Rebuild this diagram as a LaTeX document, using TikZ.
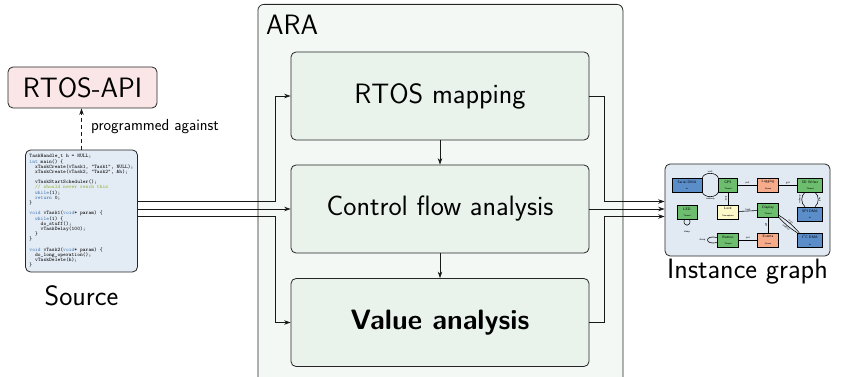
\documentclass[tikz,border=0pt]{standalone}
\usetikzlibrary{arrows.meta,calc}
\definecolor{arafill}{HTML}{F3F8F4}
\definecolor{stepfill}{HTML}{E9F3EC}
\definecolor{srcfill}{HTML}{E3EBF4}
\definecolor{igfill}{HTML}{E1E9F2}
\definecolor{apifill}{HTML}{FAE6E6}
\definecolor{isrblue}{HTML}{5B8DC9}
\definecolor{thrgreen}{HTML}{6CBE6E}
\definecolor{queorange}{HTML}{F6AB8A}
\definecolor{semyellow}{HTML}{FFF8C8}
\definecolor{kwblue}{HTML}{3F78B5}
\definecolor{cmgreen}{HTML}{8DB33A}
\newcommand{\kwd}[1]{\textcolor{kwblue}{#1}}
\newcommand{\cmt}[1]{\textcolor{cmgreen}{#1}}
\newcommand{\ntype}[1]{{\fontsize{2.3}{2.5}\selectfont #1}}
\begin{document}
\begin{tikzpicture}[x=1pt,y=-1pt,
  every node/.style={font=\sffamily},
  bigtxt/.style={font=\sffamily\fontsize{28}{33}\selectfont},
  mainbox/.style={draw=black!85, line width=0.8pt, rounded corners=5pt},
  stepbox/.style={mainbox, fill=stepfill, minimum width=298pt, minimum height=88pt, bigtxt},
  arr/.style={-{Stealth[length=6.5pt,width=4.5pt]}, line width=0.7pt, draw=black!90},
  mn/.style={draw=black, line width=0.5pt, inner sep=0.5pt, minimum height=14pt, align=center, font=\sffamily\fontsize{3.6}{4}\selectfont},
  me/.style={line width=0.55pt},
  ml/.style={font=\sffamily\fontsize{2.6}{3}\selectfont, inner sep=0.6pt}]
\useasboundingbox (0,0) rectangle (844,377);
\clip (0,0) rectangle (844,377);

% ARA container
\node[mainbox, fill=arafill, rounded corners=6pt, minimum width=365pt, minimum height=400pt, anchor=north west] (ara) at (257.5,4) {};
\node[bigtxt, anchor=base west, inner sep=0pt] (aralbl) at (266,35) {ARA};

% analysis steps
\node[stepbox] (rmap) at (440,96) {RTOS mapping};
\node[stepbox] (cfa) at (440,209) {Control flow analysis};
\node[stepbox, font=\sffamily\bfseries\fontsize{28}{33}\selectfont] (va) at (440,322.5) {Value analysis};
\draw[arr] (rmap.south) -- (cfa.north);
\draw[arr] (cfa.south) -- (va.north);

% source
\node[mainbox, fill=srcfill, minimum width=112pt, minimum height=122pt, inner sep=0pt, align=left,
      font=\ttfamily\fontsize{5.3}{5.2}\selectfont] (src) at (81.5,211) {%
TaskHandle\_t h = NULL;\\
\kwd{int} main() \{\\
\ \ xTaskCreate(vTask1, "Task1", NULL);\\
\ \ xTaskCreate(vTask2, "Task2", \&h);\\[5.2pt]
\ \ vTaskStartScheduler();\\
\ \ \cmt{// should never reach this}\\
\ \ \kwd{while}(1);\\
\ \ \kwd{return} 0;\\
\}\\[5.2pt]
\kwd{void} vTask1(\kwd{void}* param) \{\\
\ \ \kwd{while}(1) \{\\
\ \ \ \ do\_stuff();\\
\ \ \ \ vTaskDelay(100);\\
\ \ \}\\
\}\\[5.2pt]
\kwd{void} vTask2(\kwd{void}* param) \{\\
\ \ do\_long\_operation();\\
\ \ vTaskDelete(h);\\
\}};
\node[bigtxt] (srclbl) at (81.5,296) {Source};

% RTOS-API
\node[mainbox, fill=apifill, minimum width=149pt, minimum height=41pt, inner sep=0pt, bigtxt] (api) at (82.5,87.5) {RTOS-API};
\draw[arr, dash pattern=on 4pt off 3pt] (src.north) -- (src.north |- api.south);
\node[anchor=west, font=\sffamily\fontsize{16}{19}\selectfont, inner sep=0pt] (pa) at (91,127) {programmed against};

% connectors into ARA
\coordinate (in1) at ($(cfa.west)+(0,-7.5)$);
\coordinate (in3) at ($(cfa.west)+(0,7.5)$);
\draw[arr] (src.east |- in1) -| ($(rmap.west)+(-15,0)$) -- (rmap.west);
\draw[arr] (src.east |- cfa.west) -- (cfa.west);
\draw[arr] (src.east |- in3) -| ($(va.west)+(-15,0)$) -- (va.west);

% instance graph
\node[mainbox, fill=igfill, minimum width=165pt, minimum height=92pt] (ig) at (747.5,210) {};
\node[bigtxt] (iglbl) at (747.5,272) {Instance graph};

\draw[arr] (rmap.east) -- ++(15,0) |- (ig.west |- in1);
\draw[arr] (cfa.east) -- (ig.west |- cfa.east);
\draw[arr] (va.east) -- ++(15,0) |- (ig.west |- in3);

% mini graph nodes
\node[mn, fill=isrblue, minimum width=30pt] (sdma) at (687,185) {Serial DMA\\[2.4pt]\ntype{isr}};
\node[mn, fill=thrgreen, minimum width=19pt] (gps) at (728,185) {GPS\\[2.4pt]\ntype{Thread}};
\node[mn, fill=queorange, minimum width=21pt] (logq) at (768,185) {Logging\\[2.4pt]\ntype{Queue}};
\node[mn, fill=thrgreen, minimum width=25pt] (sdw) at (810,185) {SD Writer\\[2.4pt]\ntype{Thread}};
\node[mn, fill=thrgreen, minimum width=20pt] (led) at (687,212) {LED\\[2.4pt]\ntype{Thread}};
\node[mn, fill=semyellow, minimum width=21pt] (lock) at (728,212) {Lock\\[2.4pt]\ntype{Semaphore}};
\node[mn, fill=thrgreen, minimum width=21pt] (disp) at (768,210) {Display\\[2.4pt]\ntype{Thread}};
\node[mn, fill=isrblue, minimum width=25pt] (spi) at (810,214) {SPI DMA\\[2.4pt]\ntype{isr}};
\node[mn, fill=thrgreen, minimum width=21pt] (btn) at (728,240) {Button\\[2.4pt]\ntype{Thread}};
\node[mn, fill=queorange, minimum width=21pt] (evq) at (768,240) {Events\\[2.4pt]\ntype{Queue}};
\node[mn, fill=isrblue, minimum width=25pt] (pcdma) at (810,240) {I\textsuperscript{2}C DMA\\[2.4pt]\ntype{isr}};

% mini graph edges
\draw[me] (sdma.north east) to[bend left=70] node[ml, above] {wait} (gps.north west);
\draw[me] (sdma.south east) to[bend right=70] node[ml, below] {wakeup} (gps.south west);
\draw[me] (gps) -- node[ml, above] {put} (logq);
\draw[me] (logq) -- node[ml, above] {get} (sdw);
\draw[me] ([xshift=-5pt]sdw.south) to[bend right=50] node[ml, rotate=90, anchor=south] {wakeup} ([xshift=-5pt]spi.north);
\draw[me] ([xshift=5pt]sdw.south) to[bend left=50] node[ml, rotate=-90, anchor=south] {wait} ([xshift=5pt]spi.north);
\draw[me] (gps) -- node[ml, rotate=-90, anchor=north] {lock} (lock);
\draw[me] (lock) -- node[ml, above] {lock} (disp);
\draw[me] (disp) -- node[ml, rotate=-90, anchor=north] {get} (evq);
\draw[me] ([yshift=2pt]disp.south east) to[bend left=8] node[ml, sloped, above] {wait} ([xshift=2pt]pcdma.north west);
\draw[me] (disp.south east) to[bend right=8] node[ml, sloped, below] {wakeup} (pcdma.north west);
\draw[me] ([xshift=-2.5pt]led.south) .. controls +(-3,8) and +(3,8) .. ([xshift=2.5pt]led.south) node[ml, pos=0.5, below=5pt] {sleep};
\draw[me] ([yshift=2.5pt]btn.west) .. controls +(-13,-3) and +(-13,3) .. ([yshift=-2.5pt]btn.west);
\node[ml, anchor=east] (slp) at (706,240) {sleep};
\draw[me] (btn) -- node[ml, above] {put} (evq);
\end{tikzpicture}
\end{document}
